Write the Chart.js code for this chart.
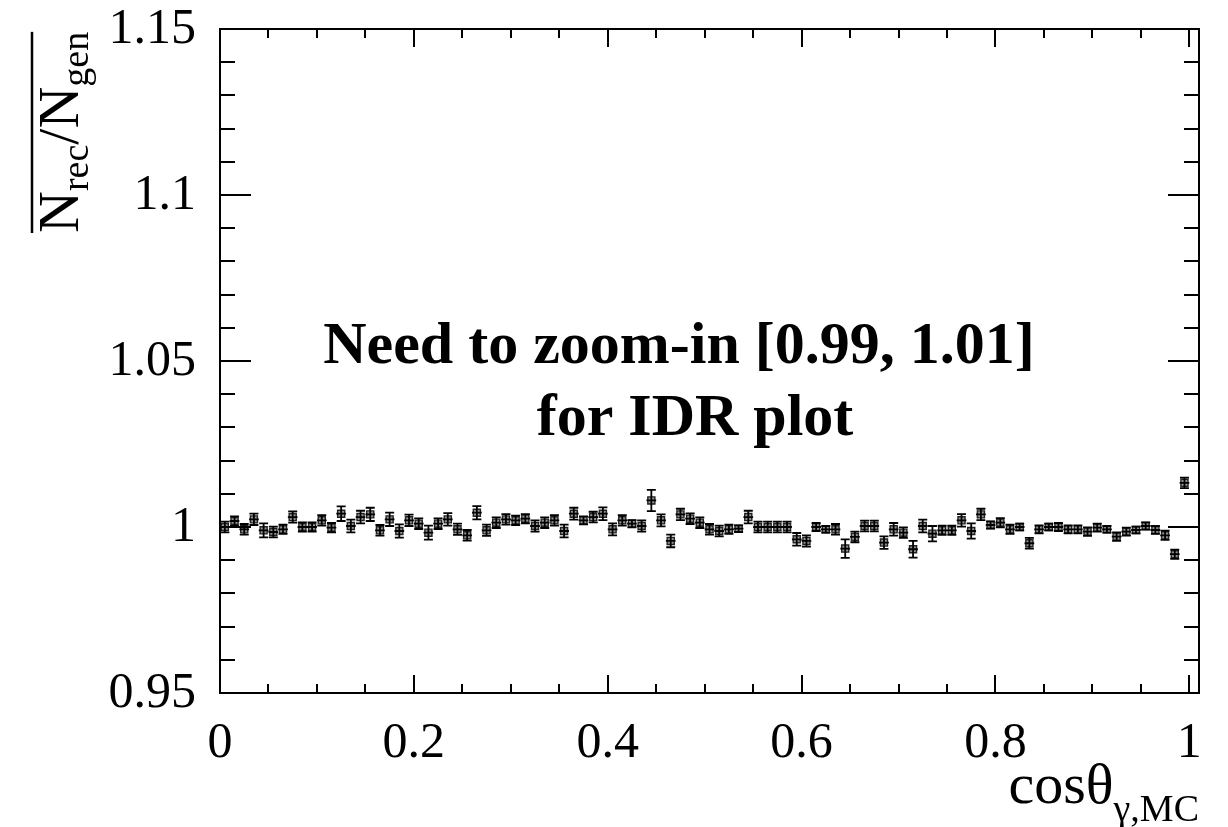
<!DOCTYPE html>
<html lang="en">
<head>
  <meta charset="UTF-8">
  <title>Nrec/Ngen vs cos theta</title>
  <script src="https://cdn.jsdelivr.net/npm/chart.js"></script>
  <style>
    html, body { margin: 0; padding: 0; background: #fff; }
    #wrap { width: 1228px; height: 827px; }
  </style>
</head>
<body>
  <div id="wrap"><canvas id="ratioChart" width="1228" height="827"></canvas></div>

  <script>
    // bin centres (cos theta, 100 bins of 0.01)
    const binCenters = [
      0.005, 0.015, 0.025, 0.035, 0.045, 0.055, 0.065, 0.075, 0.085, 0.095,
      0.105, 0.115, 0.125, 0.135, 0.145, 0.155, 0.165, 0.175, 0.185, 0.195,
      0.205, 0.215, 0.225, 0.235, 0.245, 0.255, 0.265, 0.275, 0.285, 0.295,
      0.305, 0.315, 0.325, 0.335, 0.345, 0.355, 0.365, 0.375, 0.385, 0.395,
      0.405, 0.415, 0.425, 0.435, 0.445, 0.455, 0.465, 0.475, 0.485, 0.495,
      0.505, 0.515, 0.525, 0.535, 0.545, 0.555, 0.565, 0.575, 0.585, 0.595,
      0.605, 0.615, 0.625, 0.635, 0.645, 0.655, 0.665, 0.675, 0.685, 0.695,
      0.705, 0.715, 0.725, 0.735, 0.745, 0.755, 0.765, 0.775, 0.785, 0.795,
      0.805, 0.815, 0.825, 0.835, 0.845, 0.855, 0.865, 0.875, 0.885, 0.895,
      0.905, 0.915, 0.925, 0.935, 0.945, 0.955, 0.965, 0.975, 0.985, 0.995
    ];
    const binHalfWidth = 0.005;

    // Nrec/Ngen per bin
    const ratio = [
      1.0000, 1.0018, 0.9993, 1.0023, 0.9990, 0.9985, 0.9993, 1.0030, 1.0000, 1.0000,
      1.0020, 0.9998, 1.0040, 1.0003, 1.0030, 1.0038, 0.9990, 1.0023, 0.9988, 1.0020,
      1.0010, 0.9983, 1.0010, 1.0023, 0.9993, 0.9975, 1.0043, 0.9990, 1.0013, 1.0023,
      1.0020, 1.0025, 1.0003, 1.0013, 1.0020, 0.9988, 1.0040, 1.0020, 1.0030, 1.0040,
      0.9993, 1.0020, 1.0010, 1.0003, 1.0080, 1.0020, 0.9958, 1.0038, 1.0025, 1.0013,
      0.9993, 0.9988, 0.9993, 0.9995, 1.0030, 1.0000, 1.0000, 1.0000, 1.0000, 0.9963,
      0.9958, 1.0000, 0.9993, 0.9993, 0.9935, 0.9970, 1.0003, 1.0003, 0.9953, 0.9993,
      0.9983, 0.9933, 1.0003, 0.9980, 0.9990, 0.9990, 1.0020, 0.9988, 1.0038, 1.0006,
      1.0013, 0.9993, 1.0000, 0.9951, 0.9993, 1.0000, 1.0000, 0.9993, 0.9993, 0.9986,
      0.9998, 0.9993, 0.9971, 0.9986, 0.9991, 1.0003, 0.9991, 0.9975, 0.9918, 1.0133
    ];

    // statistical error per bin
    const ratioErr = [
      0.0016, 0.0014, 0.0016, 0.0017, 0.0021, 0.0016, 0.0014, 0.0017, 0.0014, 0.0014,
      0.0016, 0.0014, 0.0022, 0.0019, 0.0019, 0.0020, 0.0016, 0.0020, 0.0020, 0.0017,
      0.0016, 0.0021, 0.0016, 0.0019, 0.0017, 0.0016, 0.0020, 0.0017, 0.0016, 0.0016,
      0.0014, 0.0014, 0.0017, 0.0016, 0.0016, 0.0019, 0.0018, 0.0012, 0.0016, 0.0019,
      0.0018, 0.0016, 0.0011, 0.0017, 0.0032, 0.0018, 0.0019, 0.0017, 0.0016, 0.0016,
      0.0016, 0.0016, 0.0014, 0.0010, 0.0019, 0.0016, 0.0016, 0.0016, 0.0016, 0.0019,
      0.0017, 0.0012, 0.0010, 0.0016, 0.0028, 0.0016, 0.0016, 0.0016, 0.0019, 0.0019,
      0.0016, 0.0025, 0.0019, 0.0023, 0.0014, 0.0014, 0.0019, 0.0023, 0.0017, 0.0011,
      0.0014, 0.0014, 0.0010, 0.0016, 0.0012, 0.0010, 0.0012, 0.0012, 0.0012, 0.0013,
      0.0012, 0.0010, 0.0013, 0.0012, 0.0010, 0.0011, 0.0012, 0.0014, 0.0014, 0.0016
    ];

    // axes
    const xTickValues = [0, 0.2, 0.4, 0.6, 0.8, 1];
    const xTickLabels = ['0', '0.2', '0.4', '0.6', '0.8', '1'];
    const xMinorTicks = [0.05, 0.1, 0.15, 0.25, 0.3, 0.35, 0.45, 0.5, 0.55, 0.65, 0.7, 0.75, 0.85, 0.9, 0.95];
    const yTickValues = [0.95, 1, 1.05, 1.1, 1.15];
    const yTickLabels = ['0.95', '1', '1.05', '1.1', '1.15'];
    const yMinorTicks = [0.96, 0.97, 0.98, 0.99, 1.01, 1.02, 1.03, 1.04, 1.06, 1.07, 1.08, 1.09,
                         1.11, 1.12, 1.13, 1.14];

    const noteLines = ['Need to zoom-in [0.99, 1.01]', 'for IDR plot'];

    const serif = '"Liberation Serif", "DejaVu Serif", serif';

    // frame, inward ticks, labels and titles (ROOT style)
    const frameAxes = {
      id: 'frameAxes',
      afterDraw(chart) {
        const { ctx, chartArea: a, scales: { x, y } } = chart;
        ctx.save();
        ctx.strokeStyle = '#000';
        ctx.fillStyle = '#000';
        ctx.lineWidth = 2;
        ctx.strokeRect(a.left, a.top, a.right - a.left, a.bottom - a.top);

        ctx.beginPath();
        xTickValues.concat(xMinorTicks).forEach(v => {
          const px = Math.round(x.getPixelForValue(v));
          const len = xTickValues.includes(v) ? 18 : 9;
          ctx.moveTo(px, a.bottom); ctx.lineTo(px, a.bottom - len);
          ctx.moveTo(px, a.top); ctx.lineTo(px, a.top + len);
        });
        yTickValues.concat(yMinorTicks).forEach(v => {
          const py = Math.round(y.getPixelForValue(v));
          const len = yTickValues.includes(v) ? 31 : 15;
          ctx.moveTo(a.left, py); ctx.lineTo(a.left + len, py);
          ctx.moveTo(a.right, py); ctx.lineTo(a.right - len, py);
        });
        ctx.stroke();

        // tick labels
        ctx.font = '50px ' + serif;
        ctx.textAlign = 'center';
        ctx.textBaseline = 'alphabetic';
        xTickValues.forEach((v, i) => {
          ctx.fillText(xTickLabels[i], x.getPixelForValue(v), a.bottom + 64);
        });
        ctx.textAlign = 'right';
        ctx.textBaseline = 'middle';
        yTickValues.forEach((v, i) => {
          ctx.fillText(yTickLabels[i], a.left - 24, y.getPixelForValue(v) + 1);
        });

        // x title: cos(theta) with subscript
        ctx.textBaseline = 'alphabetic';
        ctx.textAlign = 'left';
        ctx.font = '38px ' + serif;
        const sub = '\u03b3,MC';
        const subW = ctx.measureText(sub).width;
        ctx.font = '58px ' + serif;
        const main = 'cos\u03b8';
        const mainW = ctx.measureText(main).width;
        const xEnd = a.right;
        ctx.fillText(main, xEnd - subW - mainW, a.bottom + 110);
        ctx.font = '38px ' + serif;
        ctx.fillText(sub, xEnd - subW, a.bottom + 128);

        // y title: overline( N_rec / N_gen ), rotated
        ctx.save();
        ctx.translate(78, a.top + 204);
        ctx.rotate(-Math.PI / 2);
        const parts = [['N', 58, 0], ['rec', 38, 10], ['/', 58, 0], ['N', 58, 0], ['gen', 38, 10]];
        let cx = 0;
        parts.forEach(([t, size, dy]) => {
          ctx.font = size + 'px ' + serif;
          ctx.fillText(t, cx, dy);
          cx += ctx.measureText(t).width;
        });
        ctx.lineWidth = 2.5;
        ctx.beginPath();
        ctx.moveTo(0, -46);
        ctx.lineTo(cx, -46);
        ctx.stroke();
        ctx.restore();

        // note
        ctx.font = 'bold 60px ' + serif;
        ctx.textAlign = 'center';
        ctx.fillText(noteLines[0], 679, 363);
        ctx.fillText(noteLines[1], 695, 435);
        ctx.restore();
      }
    };

    // error bars: vertical stat error with caps, horizontal bin width
    const errorBars = {
      id: 'errorBars',
      afterDatasetsDraw(chart) {
        const { ctx, scales: { x, y } } = chart;
        ctx.save();
        ctx.strokeStyle = '#000';
        ctx.lineWidth = 1.8;
        ctx.beginPath();
        binCenters.forEach((c, i) => {
          const px = x.getPixelForValue(c);
          const pyHi = y.getPixelForValue(ratio[i] + ratioErr[i]);
          const pyLo = y.getPixelForValue(ratio[i] - ratioErr[i]);
          const py = y.getPixelForValue(ratio[i]);
          const xl = x.getPixelForValue(c - binHalfWidth);
          const xr = x.getPixelForValue(c + binHalfWidth);
          ctx.moveTo(px, pyHi); ctx.lineTo(px, pyLo);
          ctx.moveTo(px - 4.5, pyHi); ctx.lineTo(px + 4.5, pyHi);
          ctx.moveTo(px - 4.5, pyLo); ctx.lineTo(px + 4.5, pyLo);
          ctx.moveTo(xl, py); ctx.lineTo(xr, py);
        });
        ctx.stroke();
        ctx.restore();
      }
    };

    const ctx = document.getElementById('ratioChart').getContext('2d');
    const chart = new Chart(ctx, {
      type: 'scatter',
      data: {
        datasets: [{
          label: 'Nrec/Ngen',
          data: binCenters.map((c, i) => ({ x: c, y: ratio[i] })),
          pointStyle: 'rect',
          pointRadius: 5,
          backgroundColor: 'rgba(120, 120, 120, 0.8)',
          borderColor: '#222',
          borderWidth: 1.4
        }]
      },
      options: {
        responsive: false,
        animation: false,
        events: [],
        layout: { padding: { left: 220, top: 29, right: 29, bottom: 134 } },
        plugins: { legend: { display: false }, tooltip: { enabled: false } },
        scales: {
          x: { type: 'linear', min: 0, max: 1.01, display: false },
          y: { type: 'linear', min: 0.95, max: 1.15, display: false }
        }
      },
      plugins: [errorBars, frameAxes]
    });
  </script>
</body>
</html>
